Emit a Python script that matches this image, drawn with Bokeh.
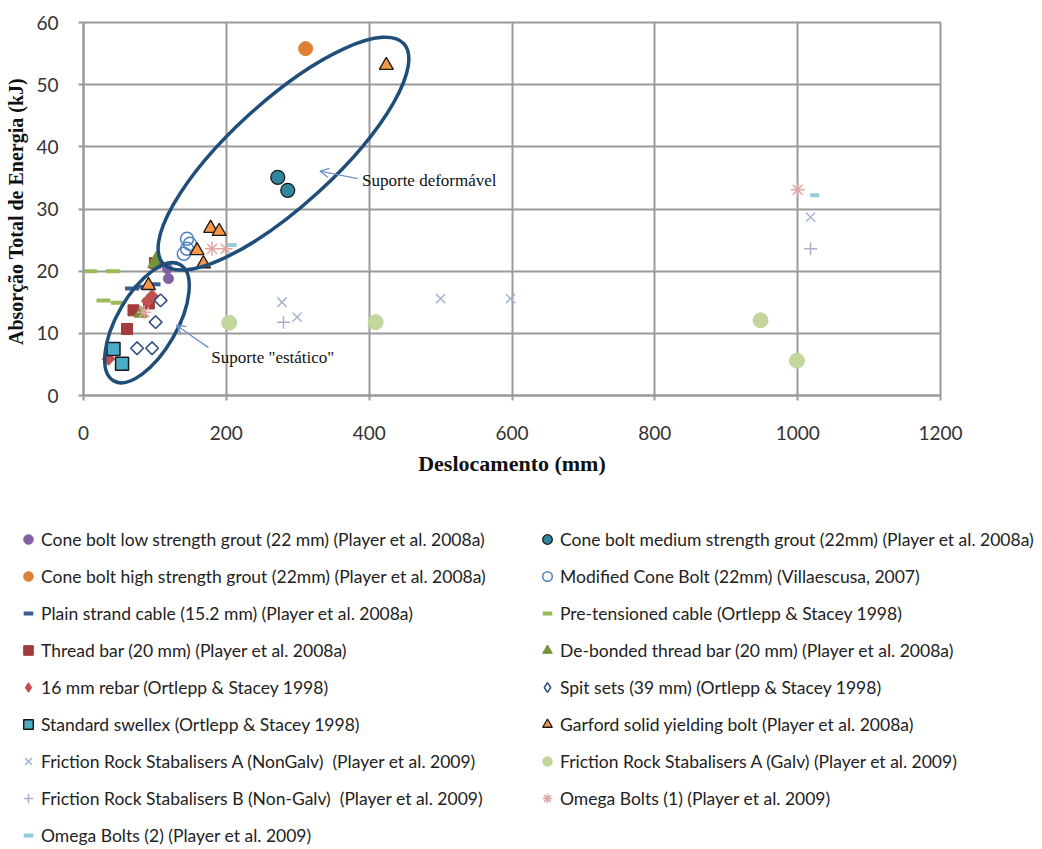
from bokeh.plotting import figure
from bokeh.models import Range1d, Legend, LegendItem, Arrow, OpenHead, Label, FixedTicker
from bokeh.layouts import column
from bokeh.embed import file_html
from bokeh.resources import INLINE

# ---------------- data (x = Deslocamento mm, y = Absorção kJ) ----------------
low_x = [117.6, 119.0]
low_y = [20.4, 18.8]
med_x = [272, 286]
med_y = [35.1, 33.0]
high_x = [311]
high_y = [55.8]
mod_x = [145, 149, 145, 140.5]
mod_y = [25.2, 24.4, 23.6, 22.8]
plain_x = [68, 81, 98]
plain_y = [17.2, 17.5, 17.9]
pret_x = [9, 41, 28, 48]
pret_y = [20.0, 20.0, 15.3, 14.9]
thread_x = [61, 70, 91.5, 100]
thread_y = [10.7, 13.7, 14.8, 21.3]
debond_x = [99, 102, 80]
debond_y = [21.2, 22.0, 13.2]
rebar_x = [35, 90, 96]
rebar_y = [5.9, 15.2, 16.0]
spit_x = [108, 101, 75, 96]
spit_y = [15.3, 11.8, 7.6, 7.6]
swel_x = [42, 54]
swel_y = [7.5, 5.1]
garf_x = [91, 159, 168, 178, 190, 424]
garf_y = [17.7, 23.3, 21.2, 26.9, 26.4, 53.1]
frsa_x = [278, 299, 500, 598, 1018]
frsa_y = [15.0, 12.6, 15.6, 15.6, 28.7]
galv_x = [204, 409, 948, 999]
galv_y = [11.7, 11.8, 12.1, 5.6]
frsb_x = [280, 1018]
frsb_y = [11.8, 23.6]
om1_x = [85, 180, 199, 1000]
om1_y = [13.4, 23.6, 23.6, 33.1]
om2_x = [208, 1024]
om2_y = [24.2, 32.2]

labels = [
    "Cone bolt low strength grout (22 mm) (Player et al. 2008a)",
    "Cone bolt medium strength grout (22mm) (Player et al. 2008a)",
    "Cone bolt high strength grout (22mm) (Player et al. 2008a)",
    "Modified Cone Bolt (22mm) (Villaescusa, 2007)",
    "Plain strand cable (15.2 mm) (Player et al. 2008a)",
    "Pre-tensioned cable (Ortlepp & Stacey 1998)",
    "Thread bar (20 mm) (Player et al. 2008a)",
    "De-bonded thread bar (20 mm) (Player et al. 2008a)",
    "16 mm rebar (Ortlepp & Stacey 1998)",
    "Spit sets (39 mm) (Ortlepp & Stacey 1998)",
    "Standard swellex (Ortlepp & Stacey 1998)",
    "Garford solid yielding bolt (Player et al. 2008a)",
    "Friction Rock Stabalisers A (NonGalv)  (Player et al. 2009)",
    "Friction Rock Stabalisers A (Galv) (Player et al. 2009)",
    "Friction Rock Stabalisers B (Non-Galv)  (Player et al. 2009)",
    "Omega Bolts (1) (Player et al. 2009)",
    "Omega Bolts (2) (Player et al. 2009)",
]
series_x = [low_x, med_x, high_x, mod_x, plain_x, pret_x, thread_x, debond_x, rebar_x,
            spit_x, swel_x, garf_x, frsa_x, galv_x, frsb_x, om1_x, om2_x]
series_y = [low_y, med_y, high_y, mod_y, plain_y, pret_y, thread_y, debond_y, rebar_y,
            spit_y, swel_y, garf_y, frsa_y, galv_y, frsb_y, om1_y, om2_y]

x_ticks = [0, 200, 400, 600, 800, 1000, 1200]
y_ticks = [0, 10, 20, 30, 40, 50, 60]

# marker styles (same order as the series)
styles = [
    dict(marker="circle", size=10, fill_color="#7f63a1", line_color="#7f63a1"),
    dict(marker="circle", size=14, fill_color="#31859c", line_color="#1a1a1a", line_width=1.3),
    dict(marker="circle", size=14, fill_color="#dd8033", line_color="#dd8033"),
    dict(marker="circle", size=13, fill_color=None, line_color="#4f81bd", line_width=1.5),
    dict(marker="dash", size=14, line_color="#3b5e91", line_width=4),
    dict(marker="dash", size=14, line_color="#9bbb59", line_width=4),
    dict(marker="square", size=11, fill_color="#a33b3b", line_color="#a33b3b"),
    dict(marker="triangle", size=13, fill_color="#77933c", line_color="#77933c"),
    dict(marker="square", angle=0.785, size=9, fill_color="#c0504d", line_color="#c0504d"),
    dict(marker="square", angle=0.785, size=9, fill_color=None, line_color="#2c4d7e", line_width=1.5),
    dict(marker="square", size=13, fill_color="#4bacc6", line_color="#1a1a1a", line_width=1.5),
    dict(marker="triangle", size=14, fill_color="#f79646", line_color="#1a1a1a", line_width=1.3),
    dict(marker="x", size=13, line_color="#a6b5d7", line_width=1.5),
    dict(marker="circle", size=15, fill_color="#c3d69b", line_color="#c3d69b"),
    dict(marker="cross", size=13, line_color="#b7a8c9", line_width=1.5),
    dict(marker="asterisk", size=14, line_color="#e3a5a4", line_width=1.5),
    dict(marker="dash", size=9, line_color="#92cddc", line_width=4),
]

# ---------------- main chart ----------------
p = figure(width=1040, height=490, x_range=Range1d(0, 1200), y_range=Range1d(0, 60),
           output_backend="svg", toolbar_location=None,
           min_border_left=83, min_border_top=22, min_border_right=100, min_border_bottom=95)
p.background_fill_color = "white"
p.border_fill_color = "white"
p.outline_line_color = "#9a9a9a"
p.outline_line_width = 2

p.xaxis.ticker = FixedTicker(ticks=x_ticks)
p.yaxis.ticker = FixedTicker(ticks=y_ticks)
p.grid.grid_line_color = "#9a9a9a"
p.grid.grid_line_width = 2
p.axis.axis_line_color = "#9a9a9a"
p.axis.axis_line_width = 2
p.axis.major_tick_line_color = "#9a9a9a"
p.axis.major_tick_line_width = 2
p.axis.major_tick_out = 5
p.axis.major_tick_in = 0
p.axis.minor_tick_line_color = None
p.axis.major_label_text_font = "Lato"
p.axis.major_label_text_font_size = "19px"
p.axis.major_label_text_color = "#333333"
p.xaxis.major_label_standoff = 25
p.yaxis.major_label_standoff = 20
p.axis.axis_label_text_font = "Liberation Serif"
p.axis.axis_label_text_font_style = "bold"
p.axis.axis_label_text_color = "#111111"
p.xaxis.axis_label_text_font_size = "22px"
p.yaxis.axis_label_text_font_size = "20px"
p.xaxis.axis_label = "Deslocamento (mm)"
p.yaxis.axis_label = "Absorção Total  de Energia (kJ)"
p.xaxis.axis_label_standoff = 8
p.yaxis.axis_label_standoff = 6

for sx, sy, st in zip(series_x, series_y, styles):
    p.scatter(sx, sy, **st)

# ellipses outlining "Suporte deformável" and "Suporte estático" (centres in data units)
ell_x = [280.0, 88.9]
ell_y = [38.9, 11.7]
p.ellipse(x=ell_x, y=ell_y, width=[326, 134], height=[104, 60], angle=[0.74, 1.05],
          width_units="screen", height_units="screen",
          fill_color=None, line_color="#1f4e79", line_width=3.5)

arrow_col = "#6f93c9"
p.add_layout(Arrow(end=OpenHead(size=9, line_color=arrow_col, line_width=1.3),
                   x_start=384, y_start=34.9, x_end=331, y_end=36.1,
                   line_color=arrow_col, line_width=1.3))
p.add_layout(Arrow(end=OpenHead(size=9, line_color=arrow_col, line_width=1.3),
                   x_start=175, y_start=7.7, x_end=130, y_end=11.3,
                   line_color=arrow_col, line_width=1.3))
p.add_layout(Label(x=390, y=34.6, text="Suporte deformável", text_font="Liberation Serif",
                   text_font_size="17px", text_baseline="middle", text_color="#111111"))
p.add_layout(Label(x=179, y=6.1, text='Suporte "estático"', text_font="Liberation Serif",
                   text_font_size="17px", text_baseline="middle", text_color="#111111"))

# ---------------- legend panel ----------------
lf = figure(width=1040, height=357, x_range=Range1d(0, 1), y_range=Range1d(0, 1),
            output_backend="svg", toolbar_location=None, min_border=0,
            x_axis_type=None, y_axis_type=None)
lf.outline_line_color = None
lf.background_fill_color = "white"
lf.border_fill_color = "white"
try:
    p.frame_align = False
    lf.frame_align = False
except Exception:
    pass

nan = float("nan")
legend_styles = []
for st in styles:
    s = dict(st)
    if s.get("angle"):
        s.pop("angle")
        s["marker"] = "diamond"
        s["size"] = 13
    legend_styles.append(s)
dummies = [lf.scatter([nan], [nan], **st) for st in legend_styles]

left_items = [LegendItem(label=labels[i], renderers=[dummies[i]]) for i in range(0, 17, 2)]
right_items = [LegendItem(label=labels[i], renderers=[dummies[i]]) for i in range(1, 17, 2)]

def mk_legend(items, loc):
    return Legend(items=items, location=loc, glyph_width=24, glyph_height=24, spacing=13,
                  label_standoff=1, padding=0, margin=0, border_line_color=None,
                  background_fill_alpha=0, label_text_font="Lato",
                  label_text_font_size="17.5px", label_text_color="#222222")

lf.add_layout(mk_legend(left_items, (16, 0)))
lf.add_layout(mk_legend(right_items, (535, 37)))

layout = column(p, lf, spacing=0)
open("out.html", "w").write(file_html(layout, INLINE))
